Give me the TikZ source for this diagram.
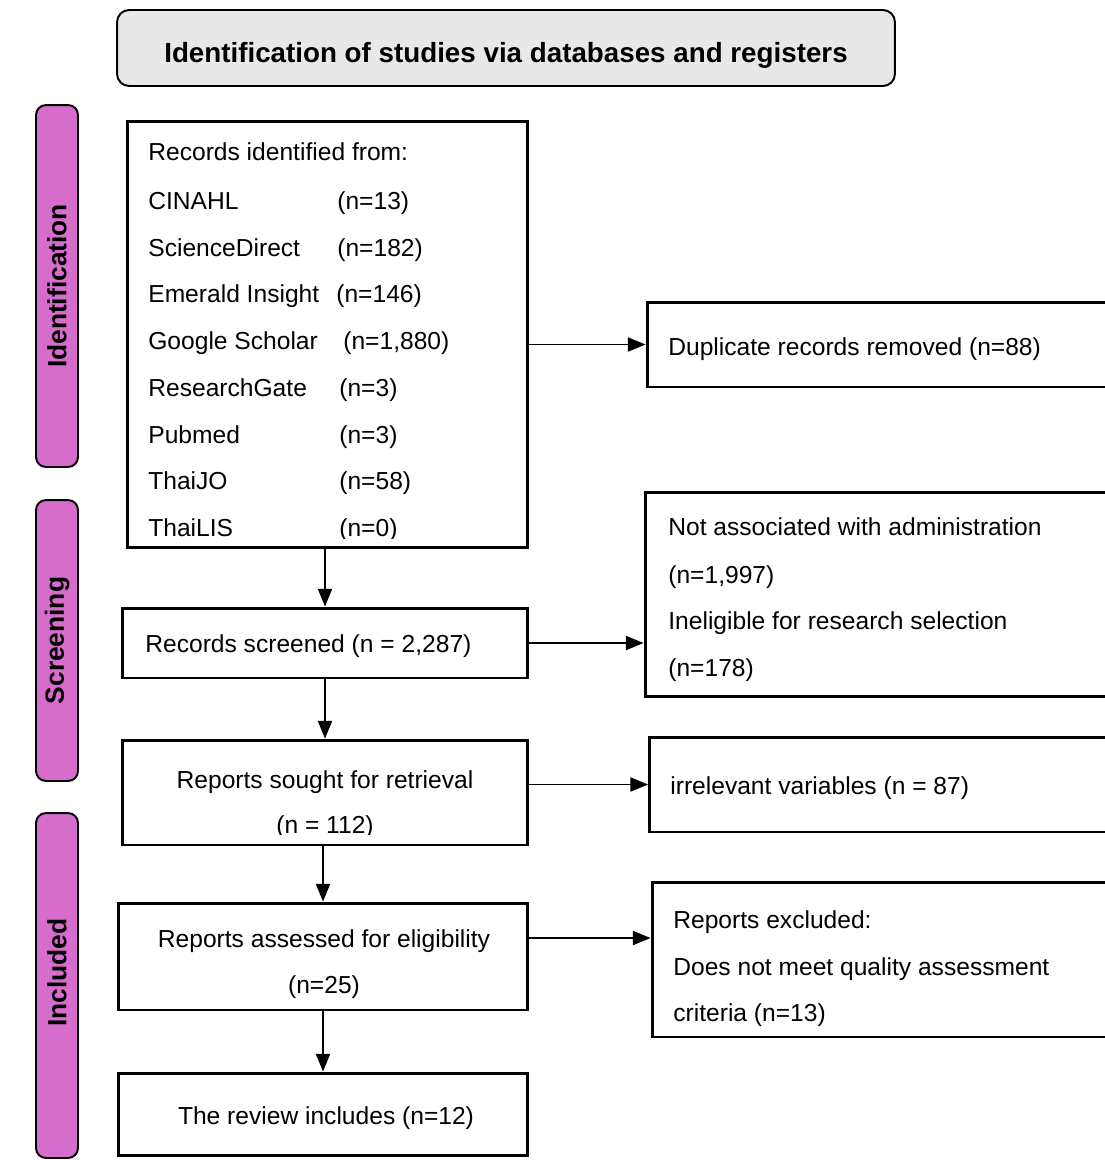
\documentclass[tikz,border=0pt]{standalone}
\usepackage{fontspec}
\setmainfont{Liberation Sans}
\usetikzlibrary{arrows.meta}

\definecolor{phasefill}{RGB}{214,108,204}
\definecolor{headfill}{RGB}{232,232,232}

\begin{document}
\begin{tikzpicture}[
    x=0.02cm, y=-0.02cm,
    header/.style={rectangle, draw, rounded corners=0.24cm, line width=1.1pt, fill=headfill, font=\fontsize{15.8}{19}\selectfont\bfseries},
    phase/.style={rectangle, draw, rounded corners=0.2cm, line width=1.1pt, fill=phasefill, rotate=90, minimum height=0.84cm, font=\fontsize{15}{18}\selectfont\bfseries},
    box/.style={rectangle, draw, line width=1.7pt, inner sep=0pt},
    txt/.style={anchor=base west, inner sep=0pt, font=\fontsize{14}{17}\selectfont},
    ctxt/.style={anchor=base, inner sep=0pt, font=\fontsize{14}{17}\selectfont},
    flow/.style={-{Triangle[length=10pt, width=8pt]}, line width=0.85pt}
]
\useasboundingbox (0,0) rectangle (1105,1160);
\clip (0,0) rectangle (1105,1160);

% header and phase bars
\node[header, minimum width=15.56cm, minimum height=1.52cm] (head) at (506,48) {};
\node[header, draw=none, fill=none] (head-t) at (506,55) {Identification of studies via databases and registers};
\node[phase, minimum width=7.24cm] (ident) at (57,286) {Identification};
\node[phase, minimum width=5.62cm] (screen) at (57,640.5) {Screening};
\node[phase, minimum width=6.9cm] (incl) at (57,985.5) {\hspace*{0.52cm}Included};

% main column
\node[box, minimum width=8.02cm, minimum height=8.54cm] (records) at (327.5,334.5) {};
\node[box, minimum width=8.12cm, minimum height=1.4cm] (screened) at (325,643) {};
\node[box, minimum width=8.12cm, minimum height=2.1cm] (sought) at (325,792.5) {};
\node[box, minimum width=8.2cm, minimum height=2.14cm] (assessed) at (323,956.5) {};
\node[box, minimum width=8.2cm, minimum height=1.64cm] (review) at (323,1114) {};

% side column
\node[box, minimum width=9.46cm, minimum height=1.7cm] (dup) at (883.5,344.5) {};
\node[box, minimum width=9.5cm, minimum height=4.1cm] (excl1) at (882.5,594.5) {};
\node[box, minimum width=9.42cm, minimum height=1.9cm] (excl2) at (885,784.5) {};
\node[box, minimum width=9.36cm, minimum height=3.1cm] (excl3) at (886,959.5) {};

% records identified
\begin{scope}
\clip (records.north west) rectangle ([yshift=0.22cm]records.south east);
\node[txt] (rec-head) at (148,160.5) {Records identified from:};
\foreach \src/\num/\nx [count=\i] in {CINAHL/13/337, ScienceDirect/182/337, Emerald Insight/146/336, Google Scholar/{1,880}/343, ResearchGate/3/339, Pubmed/3/339, ThaiJO/58/339, ThaiLIS/0/339} {
    \node[txt] (src-\i) at (148,{209.5+46.7*(\i-1)}) {\src};
    \node[txt] (num-\i) at (\nx,{209.5+46.7*(\i-1)}) {(n=\num)};
}
\end{scope}

\node[txt] (screened-t) at (145,652.5) {Records screened (n = 2,287)};

\begin{scope}
\clip (sought.north west) rectangle ([yshift=0.24cm]sought.south east);
\node[ctxt] (sought-t1) at (325,788.5) {Reports sought for retrieval};
\node[ctxt] (sought-t2) at (325,833) {(n = 112)};
\end{scope}

\node[ctxt] (assessed-t1) at (324,947.5) {Reports assessed for eligibility};
\node[ctxt] (assessed-t2) at (324,993.5) {(n=25)};
\node[ctxt] (review-t) at (326,1124.5) {The review includes (n=12)};

% side texts
\node[txt] (dup-t) at (668,355.5) {Duplicate records removed (n=88)};
\node[txt] (excl1-t1) at (668,535.5) {Not associated with administration};
\node[txt] (excl1-t2) at (668,583.5) {(n=1,997)};
\node[txt] (excl1-t3) at (668,629.5) {Ineligible for research selection};
\node[txt] (excl1-t4) at (668,676.5) {(n=178)};
\node[txt] (excl2-t) at (670,794.5) {irrelevant variables (n = 87)};
\node[txt] (excl3-t1) at (673,928.5) {Reports excluded:};
\node[txt] (excl3-t2) at (673,975.5) {Does not meet quality assessment};
\node[txt] (excl3-t3) at (673,1021.5) {criteria (n=13)};

% connectors
\coordinate (assessed-out) at ([yshift=0.37cm]assessed.east);
\draw[flow] (dup.west -| records.east) -- (dup.west);
\draw[flow] (screened.east) -- (screened.east -| excl1.west);
\draw[flow] (excl2.west -| sought.east) -- (excl2.west);
\draw[flow] (assessed-out) -- (assessed-out -| excl3.west);
\draw[flow] (screened.north |- records.south) -- (screened.north);
\draw[flow] (screened.south) -- (sought.north);
\draw[flow] (assessed.north |- sought.south) -- (assessed.north);
\draw[flow] (assessed.south) -- (review.north);

\end{tikzpicture}
\end{document}
